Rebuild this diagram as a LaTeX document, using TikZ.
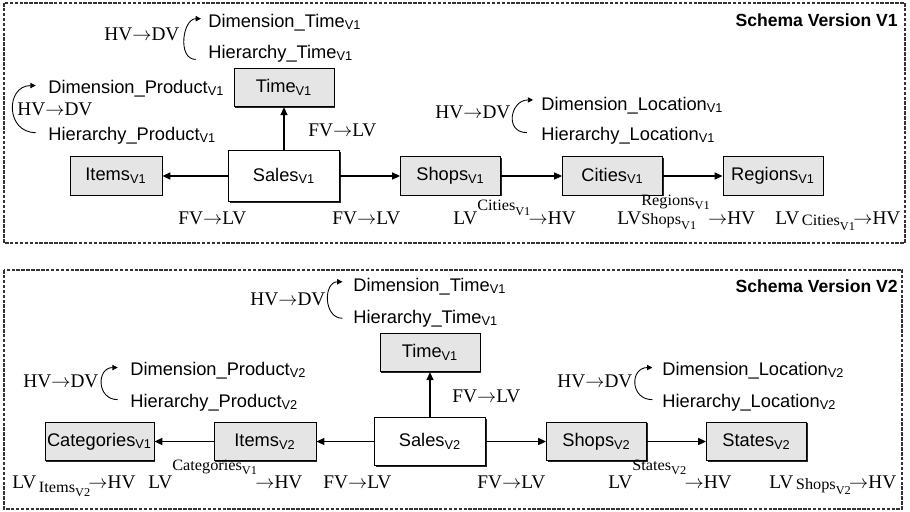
\documentclass[tikz,border=0pt]{standalone}
\usepackage{fontspec}
\usepackage{graphicx}
\setmainfont{Liberation Serif}
\setsansfont{Liberation Sans}
\usetikzlibrary{arrows.meta,shadows}

% Indizes an den Kantenbeschriftungen
\newcommand{\idx}[2]{\scalebox{1.03}[1]{\fontsize{9}{9}\selectfont #1\raisebox{-2.5pt}{\fontsize{6.8}{7}\selectfont #2}}}
\newcommand{\hoch}[3][10pt]{\raisebox{#1}{\idx{#2}{#3}}}
\newcommand{\tief}[3][1pt]{\kern1.5pt\raisebox{-#1}{\idx{#2}{#3}}}
\newcommand{\hochtief}[4]{\ooalign{\raisebox{10.5pt}{\idx{#1}{#2}}\cr\raisebox{-0.5pt}{\idx{#3}{#4}}\cr}}

\tikzset{
	kasten/.style={draw, line width=0.5pt, fill=gray!20, inner sep=0pt,
		minimum width=2cm, minimum height=0.77cm,
		font=\fontsize{10.4}{12}\selectfont\sffamily,
		drop shadow={shadow xshift=0.7pt, shadow yshift=-0.7pt, fill=black,
			opacity=0.85}},
	fakt/.style={kasten, fill=white, minimum width=2.22cm, minimum height=1.02cm},
	pfeil/.style={line width=0.7pt, -{Triangle[length=4.5pt,width=4pt]}},
	bogen/.style={line width=0.5pt, -{Triangle[length=3pt,width=3pt]}},
	beschr/.style={inner sep=0pt, font=\fontsize{10.4}{12}\selectfont\sffamily},
	regel/.style={inner sep=0pt, font=\fontsize{11}{13}\selectfont},
	titel/.style={inner sep=0pt, font=\fontsize{10}{12}\selectfont\sffamily\bfseries},
	rahmen/.style={line width=0.7pt, black!80, dash pattern=on 2pt off 0.8pt},
}

\begin{document}
\begin{tikzpicture}[x=0.02cm, y=-0.02cm]
	\useasboundingbox (0,0) rectangle (910,511);
	% Rahmen
	\draw[rahmen] (4,3) rectangle (905,243);
	\draw[rahmen] (4,270) rectangle (902,509);

	% Version V1
	\node[titel, anchor=base east] (titelA) at (898,26) {Schema Version V1};
	\node[kasten] (timeA) at (284,87.5) {Time\textsubscript{V1}};
	\node[fakt] (salesA) at (284,176) {Sales\textsubscript{V1}};
	\node[kasten, minimum width=1.84cm] (itemsA) at (116,176) {Items\textsubscript{V1}};
	\node[kasten] (shopsA) at (450.5,176) {Shops\textsubscript{V1}};
	\node[kasten] (citiesA) at (612.5,176) {Cities\textsubscript{V1}};
	\node[kasten] (regionsA) at (773,176) {Regions\textsubscript{V1}};
	\draw[pfeil] (salesA) -- (itemsA);
	\draw[pfeil] (salesA) -- (timeA);
	\draw[pfeil] (salesA) -- (shopsA);
	\draw[pfeil] (shopsA) -- (citiesA);
	\draw[pfeil] (citiesA) -- (regionsA);

	% Versionierung Zeit
	\node[regel, anchor=base west] (hvTA) at (104,40) {HV$\rightarrow$DV};
	\node[beschr, anchor=base west] (dimTA) at (208,27) {Dimension\_Time\textsubscript{V1}};
	\node[beschr, anchor=base west] (hieTA) at (208,58) {Hierarchy\_Time\textsubscript{V1}};
	\draw[bogen] ([shift={(-7pt,-3.5pt)}]hieTA.west) to[out=180, in=180, looseness=1.15]
		([shift={(-4pt,2pt)}]dimTA.west);
	% Versionierung Produkt
	\node[regel, anchor=base west] (hvPA) at (17,115) {HV$\rightarrow$DV};
	\node[beschr, anchor=base west] (dimPA) at (48,93) {Dimension\_Product\textsubscript{V1}};
	\node[beschr, anchor=base west] (hiePA) at (48,140) {Hierarchy\_Product\textsubscript{V1}};
	\draw[bogen] ([shift={(-7pt,1.5pt)}]hiePA.west) to[out=180, in=180, looseness=1.65]
		([shift={(-7pt,1.5pt)}]dimPA.west);
	% Versionierung Ort
	\node[regel, anchor=base west] (hvLA) at (435,118) {HV$\rightarrow$DV};
	\node[beschr, anchor=base west] (dimLA) at (541,110) {Dimension\_Location\textsubscript{V1}};
	\node[beschr, anchor=base west] (hieLA) at (541,140) {Hierarchy\_Location\textsubscript{V1}};
	\draw[bogen] ([shift={(-8pt,1.5pt)}]hieLA.west) to[out=180, in=180, looseness=1.75]
		([shift={(-4.5pt,3pt)}]dimLA.west);

	% Kantenbeschriftungen V1
	\node[regel, anchor=base west] (fvTA) at (308,136) {FV$\rightarrow$LV};
	\node[regel, anchor=base west] (fvIA) at (178,224) {FV$\rightarrow$LV};
	\node[regel, anchor=base west] (fvSA) at (332,224) {FV$\rightarrow$LV};
	\node[regel, anchor=base west] (lvShA) at (453,224)
		{LV\hoch[7.5pt]{Cities}{V1}\kern-1pt$\rightarrow$HV};
	\node[regel, anchor=base west] (lvRA) at (617,224)
		{LV\hochtief{Regions}{V1}{Shops}{V1}\kern-1pt$\rightarrow$HV};
	\node[regel, anchor=base west] (lvCA) at (775,224)
		{LV\tief{Cities}{V1}\kern-1pt$\rightarrow$HV};

	% Version V2
	\node[titel, anchor=base east] (titelB) at (898,292) {Schema Version V2};
	\node[kasten] (timeB) at (430,352.5) {Time\textsubscript{V1}};
	\node[fakt, minimum height=0.96cm] (salesB) at (430,441.5) {Sales\textsubscript{V2}};
	\node[kasten, minimum width=2.04cm] (itemsB) at (265,441.5) {Items\textsubscript{V2}};
	\node[kasten, minimum width=2.18cm] (catB) at (99.5,441.5) {Categories\textsubscript{V1}};
	\node[kasten] (shopsB) at (596.5,441.5) {Shops\textsubscript{V2}};
	\node[kasten] (statesB) at (756.5,441.5) {States\textsubscript{V2}};
	\draw[pfeil] (salesB) -- (itemsB);
	\draw[pfeil] (itemsB) -- (catB);
	\draw[pfeil] (salesB) -- (timeB);
	\draw[pfeil] (salesB) -- (shopsB);
	\draw[pfeil] (shopsB) -- (statesB);

	% Versionierung Zeit
	\node[regel, anchor=base west] (hvTB) at (250,305) {HV$\rightarrow$DV};
	\node[beschr, anchor=base west] (dimTB) at (353,291) {Dimension\_Time\textsubscript{V1}};
	\node[beschr, anchor=base west] (hieTB) at (353,323) {Hierarchy\_Time\textsubscript{V1}};
	\draw[bogen] ([shift={(-6pt,0pt)}]hieTB.west) to[out=180, in=180, looseness=1.35]
		([shift={(-6pt,2.5pt)}]dimTB.west);
	% Versionierung Produkt
	\node[regel, anchor=base west] (hvPB) at (23,387) {HV$\rightarrow$DV};
	\node[beschr, anchor=base west] (dimPB) at (130,375) {Dimension\_Product\textsubscript{V2}};
	\node[beschr, anchor=base west] (hiePB) at (130,407) {Hierarchy\_Product\textsubscript{V2}};
	\draw[bogen] ([shift={(-7pt,1.5pt)}]hiePB.west) to[out=180, in=180, looseness=1.7]
		([shift={(-7pt,1.5pt)}]dimPB.west);
	% Versionierung Ort
	\node[regel, anchor=base west] (hvLB) at (557,387) {HV$\rightarrow$DV};
	\node[beschr, anchor=base west] (dimLB) at (662,375) {Dimension\_Location\textsubscript{V2}};
	\node[beschr, anchor=base west] (hieLB) at (662,407) {Hierarchy\_Location\textsubscript{V2}};
	\draw[bogen] ([shift={(-5.5pt,1.5pt)}]hieLB.west) to[out=180, in=180, looseness=1.8]
		([shift={(-5.5pt,1.5pt)}]dimLB.west);

	% Kantenbeschriftungen V2
	\node[regel, anchor=base west] (fvTB) at (452,402) {FV$\rightarrow$LV};
	\node[regel, anchor=base west] (lvIB) at (12,488)
		{LV\tief[2.5pt]{Items}{V2}\kern-1pt$\rightarrow$HV};
	\node[regel, anchor=base west] (lvCB) at (148,488)
		{LV\hoch{Categories}{V1}\kern-1pt$\rightarrow$HV};
	\node[regel, anchor=base west] (fvIB) at (323,488) {FV$\rightarrow$LV};
	\node[regel, anchor=base west] (fvSB) at (477,488) {FV$\rightarrow$LV};
	\node[regel, anchor=base west] (lvStB) at (608,488)
		{LV\hoch{States}{V2}\kern-1pt$\rightarrow$HV};
	\node[regel, anchor=base west] (lvShB) at (769,488)
		{LV\tief{Shops}{V2}\kern-1pt$\rightarrow$HV};
\end{tikzpicture}
\end{document}
